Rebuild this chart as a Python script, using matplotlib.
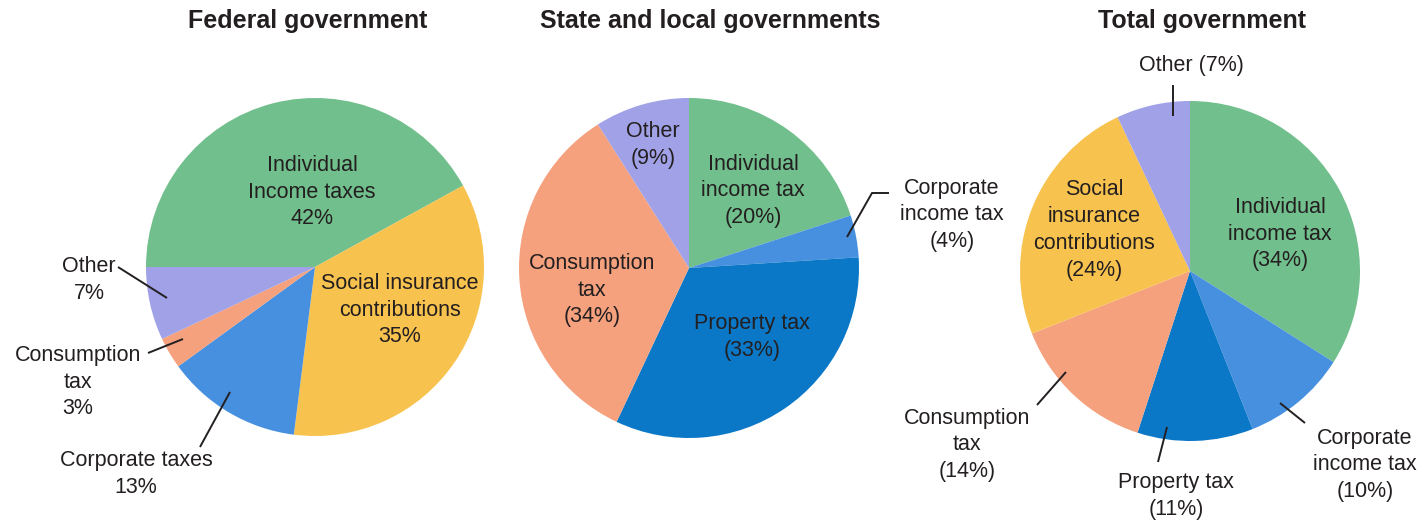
import matplotlib
matplotlib.use("Agg")
import matplotlib.pyplot as plt

W, H = 1427, 524

plt.rcParams["font.family"] = ["Liberation Sans", "DejaVu Sans"]

# ==============================
# Data (shares of revenue, %)
# ==============================
fed_names = ["Individual\nIncome taxes", "Social insurance\ncontributions",
             "Corporate taxes", "Consumption\ntax", "Other"]
fed_shares = [42, 35, 13, 3, 7]

state_names = ["Individual\nincome tax", "Corporate\nincome tax",
               "Property tax", "Consumption\ntax", "Other"]
state_shares = [20, 4, 33, 34, 9]

total_names = ["Individual\nincome tax", "Corporate\nincome tax", "Property tax",
               "Consumption\ntax", "Social\ninsurance\ncontributions", "Other"]
total_shares = [34, 10, 11, 14, 24, 7]

titles = ["Federal government", "State and local governments", "Total government"]

# ==============================
# Colours per category
# ==============================
COLORS = {
    "individual": "#71bf8c",
    "social": "#f8c24e",
    "corporate": "#4790df",
    "property": "#0b78c7",
    "consumption": "#f5a17e",
    "other": "#a0a1e6",
}
fed_colors = [COLORS[k] for k in ["individual", "social", "corporate", "consumption", "other"]]
state_colors = [COLORS[k] for k in ["individual", "corporate", "property", "consumption", "other"]]
total_colors = [COLORS[k] for k in ["individual", "corporate", "property", "consumption", "social", "other"]]

TEXT = "#231f20"


def up(y):
    # layout below is written top-down in pixels
    return H - y


def fmt_fed(name, v):
    return f"{name}\n{v}%"


def fmt_state(name, v):
    return f"{name}\n({v}%)"


def fmt_total(name, v):
    # "Other" sits above the pie on a single line
    sep = " " if name == "Other" else "\n"
    return f"{name}{sep}({v}%)"


# pie centre, radius, start angle, label anchors and leader lines (pixels)
pies = [
    dict(names=fed_names, shares=fed_shares, colors=fed_colors, center=(315, 267),
         radius=169, start=180, title_x=308, fmt=fmt_fed,
         label_pos=[(312, 192), (400, 310), (136, 474), (78, 382), (89, 280)],
         leaders=[[(200, 447), (230, 392)], [(148, 353), (183, 339)],
                  [(118, 267), (167, 298)]]),
    dict(names=state_names, shares=state_shares, colors=state_colors, center=(689, 268),
         radius=170, start=90, title_x=710, fmt=fmt_state,
         label_pos=[(753, 191), (952, 215), (752, 337), (592, 290), (653, 145)],
         leaders=[[(889, 193), (872, 193), (847, 237)]]),
    dict(names=total_names, shares=total_shares, colors=total_colors, center=(1190, 271),
         radius=170, start=90, title_x=1202, fmt=fmt_total,
         label_pos=[(1280, 234), (1365, 465), (1176, 496), (967, 445), (1094, 230),
                    (1191, 65)],
         leaders=[[(1305, 423), (1280, 403)], [(1158, 462), (1167, 427)],
                  [(1037, 405), (1066, 372)], [(1173, 85), (1173, 116)]]),
]

fig = plt.figure(figsize=(W / 100, H / 100), dpi=100)
ax = fig.add_axes([0, 0, 1, 1])

for title, p in zip(titles, pies):
    cx, cy = p["center"]
    ax.pie(p["shares"], colors=p["colors"], startangle=p["start"], counterclock=False,
           center=(cx, up(cy)), radius=p["radius"],
           wedgeprops=dict(linewidth=0, antialiased=True))

    for name, v, (lx, ly) in zip(p["names"], p["shares"], p["label_pos"]):
        ax.text(lx, up(ly), p["fmt"](name, v), ha="center", va="center",
                fontsize=15.5, linespacing=1.36, color=TEXT)

    for line in p["leaders"]:
        xs = [pt[0] for pt in line]
        ys = [up(pt[1]) for pt in line]
        ax.plot(xs, ys, color=TEXT, lw=1.4, solid_capstyle="butt")

    ax.text(p["title_x"], up(28), title, ha="center", va="baseline",
            fontsize=18, fontweight="bold", color=TEXT)

ax.set_xlim(0, W)
ax.set_ylim(0, H)
ax.set_aspect("equal")
ax.axis("off")

fig.savefig("out.png", dpi=100, facecolor="white")
plt.close(fig)
